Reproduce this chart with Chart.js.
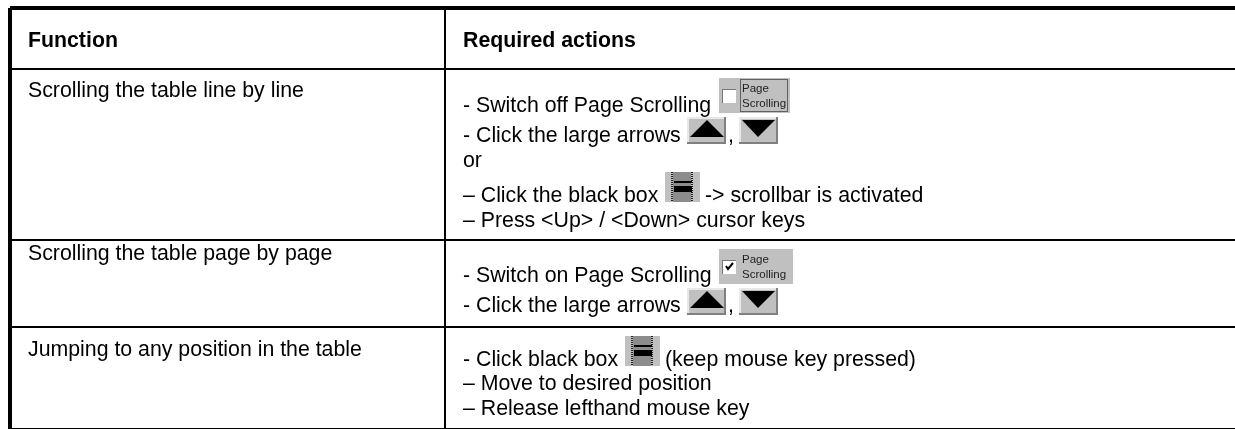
<!DOCTYPE html>
<html lang="en">
<head>
    <meta charset="UTF-8">
    <title>Table scrolling functions</title>
    <script src="https://cdn.jsdelivr.net/npm/chart.js"></script>
    <style>
        html, body { margin: 0; background: #fff; overflow: hidden; }
        canvas { display: block; }
    </style>
</head>
<body>
    <canvas id="tableChart" width="1235" height="429"></canvas>

    <script>
        const headers = ['Function', 'Required actions'];
        const functions = [
            'Scrolling the table line by line',
            'Scrolling the table page by page',
            'Jumping to any position in the table'
        ];
        const actions = [
            ['- Switch off Page Scrolling', '- Click the large arrows', 'or', '– Click the black box', '– Press <Up> / <Down> cursor keys'],
            ['- Switch on Page Scrolling', '- Click the large arrows'],
            ['- Click black box', '– Move to desired position', '– Release lefthand mouse key']
        ];
        const actionTails = { '0-1': ',', '0-3': '-> scrollbar is activated', '1-1': ',', '2-0': '(keep mouse key pressed)' };
        const iconCaption = ['Page', 'Scrolling'];

        // table layout, the axes run in page pixels
        const columnRules = [10, 445];
        const rowRules = [8, 69, 240, 327, 428.5];
        const heavyRules = [10, 8];
        const headerBaseline = 47;
        const functionBaselines = [97, 260, 356];
        const actionBaselines = [[112, 142, 167, 202, 227], [282, 312], [366, 390, 415]];
        const tailX = { '0-1': 728, '0-3': 705, '1-1': 728, '2-0': 665 };
        const textX = [28, 463];
        const textFont = '21.3px "Liberation Sans"';
        const boldFont = 'bold 21.3px "Liberation Sans"';

        const ruleWidth = ctx => heavyRules.includes(ctx.tick.value) ? 4 : 2;

        function bevel(c, x, y, w, h, light, dark) {
            c.fillStyle = light;
            c.fillRect(x, y, w, 2);
            c.fillRect(x, y, 2, h);
            c.fillStyle = dark;
            c.fillRect(x, y + h - 2, w, 2);
            c.fillRect(x + w - 2, y, 2, h);
        }

        function pageIcon(c, x, y, w, h, checked) {
            c.fillStyle = '#c0c0c0';
            c.fillRect(x, y, w, h);
            c.fillStyle = '#fff';
            c.fillRect(x + 3, y + 11, 14, 14);
            c.fillStyle = '#777';
            c.fillRect(x + 3, y + 11, 14, 1);
            c.fillRect(x + 3, y + 11, 1, 14);
            c.strokeStyle = '#000';
            if (checked) {
                c.lineWidth = 2;
                c.beginPath();
                c.moveTo(x + 7, y + 17);
                c.lineTo(x + 9, y + 20);
                c.lineTo(x + 14, y + 14);
                c.stroke();
            } else {
                c.lineWidth = 1;
                c.setLineDash([1, 1]);
                c.strokeRect(x + 21.5, y + 1.5, w - 24, h - 3);
                c.setLineDash([]);
            }
            c.fillStyle = '#222';
            c.font = '11.5px "Liberation Sans"';
            c.fillText(iconCaption[0], x + 23, y + 14);
            c.fillText(iconCaption[1], x + 23, y + 29);
        }

        function arrowIcon(c, x, y, up) {
            c.fillStyle = '#c0c0c0';
            c.fillRect(x, y, 39, 27);
            bevel(c, x, y, 39, 27, '#e8e8e8', '#808080');
            c.fillStyle = '#000';
            c.beginPath();
            if (up) {
                c.moveTo(x + 20, y + 3);
                c.lineTo(x + 3, y + 20);
                c.lineTo(x + 37, y + 20);
            } else {
                c.moveTo(x + 3, y + 3);
                c.lineTo(x + 36, y + 3);
                c.lineTo(x + 19, y + 20);
            }
            c.fill();
        }

        function boxIcon(c, x, y) {
            c.fillStyle = '#c0c0c0';
            c.fillRect(x, y, 35, 30);
            c.fillStyle = '#8c8c8c';
            c.fillRect(x + 8, y, 18, 30);
            c.fillStyle = '#222';
            for (let i = 0; i < 15; i++) {
                c.fillRect(x + 6, y + i * 2, 2, 1);
                c.fillRect(x + 26, y + i * 2, 2, 1);
            }
            c.fillStyle = '#000';
            c.fillRect(x + 9, y + 9, 18, 2);
            c.fillRect(x + 9, y + 14, 18, 6);
        }

        const tableText = {
            id: 'tableText',
            afterDraw(chart) {
                const c = chart.ctx;
                const px = v => chart.scales.x.getPixelForValue(v);
                const py = v => chart.scales.y.getPixelForValue(v);
                c.save();
                c.textBaseline = 'alphabetic';
                c.fillStyle = '#000';
                c.font = boldFont;
                headers.forEach((h, i) => c.fillText(h, px(textX[i]), py(headerBaseline)));
                c.font = textFont;
                functions.forEach((f, i) => c.fillText(f, px(textX[0]), py(functionBaselines[i])));
                actions.forEach((lines, r) => lines.forEach((line, l) => {
                    c.fillText(line, px(textX[1]), py(actionBaselines[r][l]));
                    const tail = actionTails[r + '-' + l];
                    if (tail) c.fillText(tail, px(tailX[r + '-' + l]), py(actionBaselines[r][l]));
                }));

                // screenshots of the controls that sit in the text
                pageIcon(c, px(719), py(78), 71, 35, false);
                pageIcon(c, px(719), py(249), 74, 35, true);
                arrowIcon(c, px(687), py(117), true);
                arrowIcon(c, px(739), py(117), false);
                arrowIcon(c, px(687), py(288), true);
                arrowIcon(c, px(739), py(288), false);
                boxIcon(c, px(665), py(172));
                boxIcon(c, px(625), py(336));
                c.restore();
            }
        };

        new Chart(document.getElementById('tableChart'), {
            type: 'scatter',
            data: { datasets: [] },
            plugins: [tableText],
            options: {
                responsive: false,
                animation: false,
                events: [],
                layout: { padding: { left: 10, top: 8 } },
                plugins: { legend: { display: false }, tooltip: { enabled: false } },
                scales: {
                    x: {
                        type: 'linear', min: 10, max: 1235,
                        afterBuildTicks: axis => { axis.ticks = columnRules.map(value => ({ value })); },
                        ticks: { display: false },
                        border: { display: false },
                        grid: { color: '#000', lineWidth: ruleWidth, drawTicks: false }
                    },
                    y: {
                        type: 'linear', min: 8, max: 429, reverse: true,
                        afterBuildTicks: axis => { axis.ticks = rowRules.map(value => ({ value })); },
                        ticks: { display: false },
                        border: { display: false },
                        grid: { color: '#000', lineWidth: ruleWidth, drawTicks: false }
                    }
                }
            }
        });
    </script>
</body>
</html>
